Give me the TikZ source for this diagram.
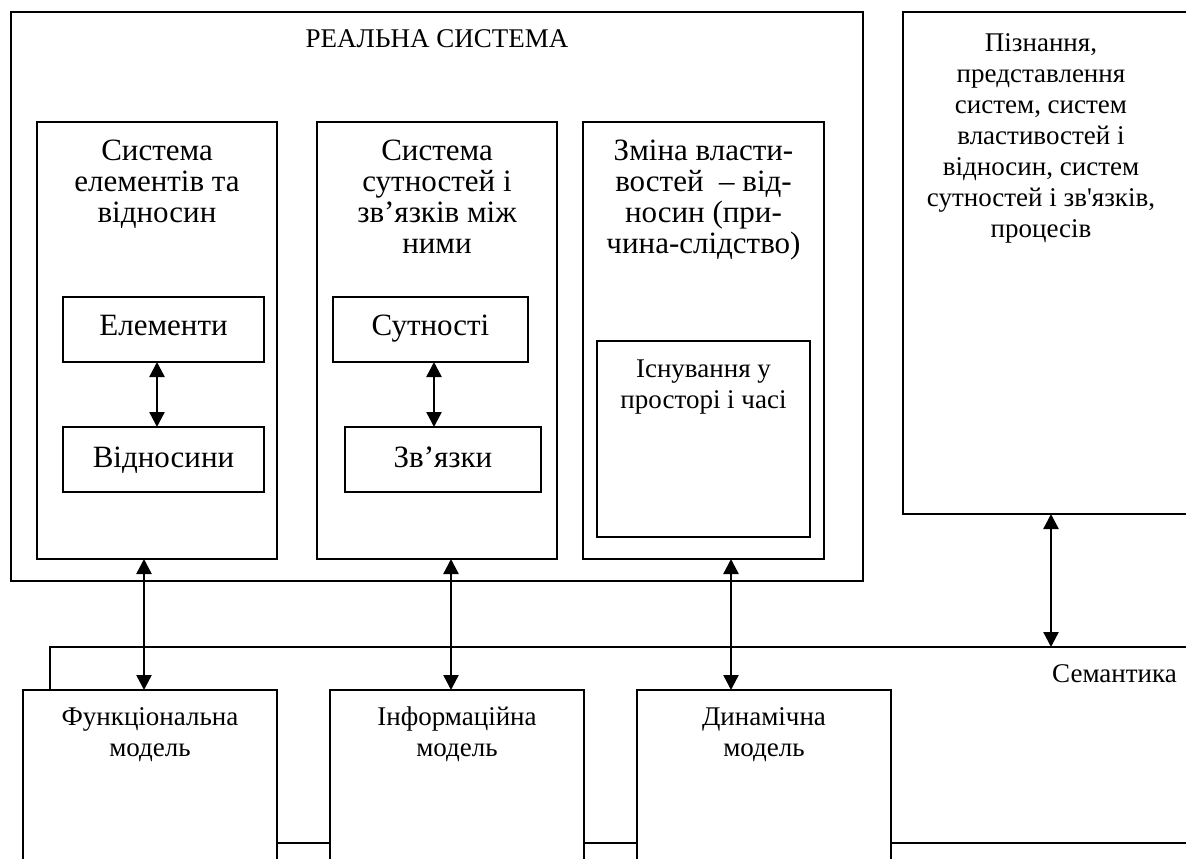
\documentclass[tikz,border=0pt]{standalone}
\usepackage{fontspec}
\newfontfamily\tnr{Liberation Serif}
\usetikzlibrary{arrows.meta}
\tikzset{
  frame/.style={draw, line width=1.6pt, inner sep=0pt, outer sep=0pt, anchor=north west},
  lbl/.style={font=\tnr\fontsize{27}{31}\selectfont, align=center, inner sep=0pt, anchor=north},
  biglbl/.style={lbl, font=\tnr\fontsize{31}{31}\selectfont},
  wire/.style={line width=1.6pt},
  biarrow/.style={line width=2.4pt, {Triangle[length=15pt,width=15pt]}-{Triangle[length=15pt,width=15pt]}}
}
\begin{document}
\begin{tikzpicture}[x=1pt, y=-1pt]
\useasboundingbox (0,0) rectangle (1186,859);
\clip (0,0) rectangle (1186,859);

% outer system frame with its three sub-systems
\node[frame, minimum width=852pt, minimum height=569pt] (R) at (11,12) {};
\node[frame, minimum width=240pt, minimum height=437pt] (B1) at (37,122) {};
\node[frame, minimum width=240pt, minimum height=437pt] (B2) at (317,122) {};
\node[frame, minimum width=241pt, minimum height=437pt] (B3) at (583,122) {};

% inner boxes
\node[frame, minimum width=201pt, minimum height=65pt] (E1) at (63,297) {};
\node[frame, minimum width=201pt, minimum height=65pt] (E2) at (63,427) {};
\node[frame, minimum width=195pt, minimum height=65pt] (S1) at (333,297) {};
\node[frame, minimum width=196pt, minimum height=65pt] (S2) at (345,427) {};
\node[frame, minimum width=213pt, minimum height=196pt] (X) at (597,341) {};

% cognition frame on the right
\node[frame, minimum width=300pt, minimum height=502pt] (P) at (903,12) {};

% model frames at the bottom
\node[frame, minimum width=254pt, minimum height=260pt] (F) at (23,690) {};
\node[frame, minimum width=254pt, minimum height=260pt] (I) at (330,690) {};
\node[frame, minimum width=254pt, minimum height=260pt] (D) at (637,690) {};

% texts
\node[lbl] (tR) at (437,25.3) {\strut РЕАЛЬНА СИСТЕМА};
\node[biglbl] (tB1) at (157,138.3) {\strut Система\\елементів та\\відносин};
\node[biglbl] (tB2) at (437,138.3) {\strut Система\\сутностей і\\зв’язків між\\ними};
\node[biglbl] (tB3) at (703.5,138.3) {\strut Зміна власти-\\востей~ – від-\\носин (при-\\чина-слідство)};
\node[biglbl] (tE1) at (163.5,313.3) {\strut Елементи};
\node[biglbl] (tE2) at (163.5,445.3) {\strut Відносини};
\node[biglbl] (tS1) at (430.5,313.3) {\strut Сутності};
\node[biglbl] (tS2) at (443,445.3) {\strut Зв’язки};
\node[lbl] (tX) at (703.5,355.3) {\strut Існування у\\просторі і часі};
\node[lbl] (tP) at (1041,29.3) {\strut Пізнання,\\представлення\\систем, систем\\властивостей і\\відносин, систем\\сутностей і зв'язків,\\процесів};
\node[lbl, anchor=north east] (tSem) at (1177,660.3) {\strut Семантика};
\node[lbl] (tF) at (150,703.3) {\strut Функціональна\\модель};
\node[lbl] (tI) at (457,703.3) {\strut Інформаційна\\модель};
\node[lbl] (tD) at (764,703.3) {\strut Динамічна\\модель};

% semantics bus and the lower joining lines
\coordinate (sem) at (50,647);
\coordinate (semR) at (1195,647);
\coordinate (bot) at (0,843);
\coordinate (botR) at (1195,843);
\draw[wire] (sem |- F.north) -- (sem) -- (semR);
\draw[wire] (F.east |- bot) -- (I.west |- bot);
\draw[wire] (I.east |- bot) -- (D.west |- bot);
\draw[wire] (D.east |- bot) -- (botR);

% two-way links
\coordinate (a1) at (144,0);
\coordinate (a2) at (451,0);
\coordinate (a3) at (731,0);
\coordinate (a4) at (1051,0);
\coordinate (a5) at (157,0);
\coordinate (a6) at (434,0);
\draw[biarrow] (B1.south -| a1) -- (F.north -| a1);
\draw[biarrow] (B2.south -| a2) -- (I.north -| a2);
\draw[biarrow] (B3.south -| a3) -- (D.north -| a3);
\draw[biarrow] (P.south -| a4) -- (sem -| a4);
\draw[biarrow] (E1.south -| a5) -- (E2.north -| a5);
\draw[biarrow] (S1.south -| a6) -- (S2.north -| a6);
\end{tikzpicture}
\end{document}
